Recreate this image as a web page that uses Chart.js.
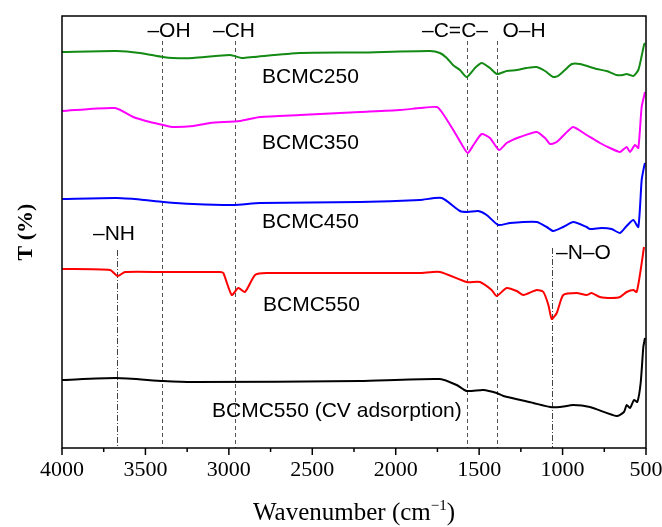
<!DOCTYPE html>
<html>
<head>
<meta charset="utf-8">
<script src="https://cdn.jsdelivr.net/npm/chart.js@4.4.1/dist/chart.umd.min.js"></script>
<style>
  html, body { margin: 0; padding: 0; background: #fff; }
  #wrap { width: 662px; height: 527px; }
</style>
</head>
<body>
<div id="wrap"><canvas id="ftir" width="662" height="527"></canvas></div>
<script>
// FTIR spectra - wavenumber (cm-1) / transmittance (offset, arbitrary units)
const wn250 = [4000, 3672, 3533, 3395, 3335, 3215, 2993, 2923, 2855, 2574, 2214, 1795, 1735, 1694, 1657, 1615, 1575, 1525, 1485, 1435, 1393, 1335, 1275, 1215, 1155, 1105, 1056, 1027, 986, 945, 896, 796, 736, 676, 638, 616, 596, 576, 546, 526, 512, 506];
const t250 = [396, 397, 395, 391, 390, 390, 393, 390, 391, 395, 395.5, 397, 395, 390, 383, 378, 371, 380, 385, 380, 374, 377, 378, 380, 381, 377, 371, 372, 378, 384, 384, 379, 377, 373, 373, 374, 373, 372, 378, 392, 403, 405];

const wn350 = [4000, 3682, 3573, 3473, 3393, 3333, 3213, 3113, 2933, 2813, 2574, 2214, 1974, 1854, 1754, 1724, 1655, 1595, 1568, 1534, 1485, 1435, 1381, 1335, 1255, 1155, 1105, 1075, 1035, 986, 936, 856, 776, 716, 656, 616, 596, 566, 546, 526, 506];
const t350 = [337, 340, 331, 326, 323, 321, 322, 325, 327, 331, 333, 336, 338, 340, 341, 336, 318, 301, 295, 303, 314, 310, 298, 305, 311, 316, 310, 304, 306, 314, 321, 313, 305, 300, 296, 301, 296, 303, 300, 341, 356];

const wn450 = [4000, 3672, 3533, 3393, 3213, 2973, 2813, 2214, 1854, 1724, 1615, 1568, 1505, 1455, 1385, 1315, 1155, 1095, 1056, 996, 936, 856, 836, 766, 706, 656, 616, 576, 546, 526, 512, 506];
const t450 = [249, 250, 248.5, 246, 244, 243, 245, 246, 248, 250, 237, 236, 237, 233, 223, 225, 226, 221, 217, 221, 226, 221, 219, 220, 219, 215, 222, 228, 221, 268, 281, 285];

const wn550 = [4000, 3712, 3666, 3622, 3393, 3053, 3033, 2983, 2943, 2903, 2843, 2773, 1854, 1735, 1575, 1495, 1425, 1395, 1335, 1275, 1235, 1155, 1115, 1085, 1065, 1035, 996, 916, 856, 826, 776, 706, 656, 616, 576, 556, 532, 512];
const t550 = [179, 178, 172, 176, 176, 176, 175, 153, 160, 156, 173, 175, 175, 176, 166, 166, 158, 152, 160, 157, 153, 158, 156, 143, 129, 135, 153, 155, 153, 155, 151, 150, 151, 156, 158, 156, 178, 201];

const wnCV = [4000, 3672, 3393, 3213, 2214, 1735, 1635, 1575, 1475, 1395, 1355, 1175, 1075, 1016, 936, 836, 676, 632, 616, 596, 572, 552, 532, 516, 506];
const tCV = [68, 70, 67, 66, 67, 69, 63, 57, 58, 55, 52, 45, 41, 41, 43, 41, 32, 36, 43, 40, 48, 46, 65, 101, 110];

const seriesNames = ['BCMC250', 'BCMC350', 'BCMC450', 'BCMC550', 'BCMC550 (CV adsorption)'];
const seriesColors = ['#138a13', '#ff00ff', '#0000ff', '#ff0000', '#000000'];

// band assignments
const bandWn = [3400, 2965, 1570, 1390];
const bandLabels = ['\u2013OH', '\u2013CH', '\u2013C=C\u2013', 'O\u2013H'];
const markWn = [3672, 1064];
const markLabels = ['\u2013NH', '\u2013N\u2013O'];

const xTicks = [4000, 3500, 3000, 2500, 2000, 1500, 1000, 500];

function toPoints(xs, ys) {
    return xs.map((x, i) => ({ x: x, y: ys[i] }));
}

const allX = [wn250, wn350, wn450, wn550, wnCV];
const allY = [t250, t350, t450, t550, tCV];

const datasets = seriesNames.map((name, i) => ({
    label: name,
    data: toPoints(allX[i], allY[i]),
    borderColor: seriesColors[i],
    borderWidth: 2,
    pointRadius: 0,
    tension: 0.2,
    fill: false
}));

// cadre, graduations, lignes de bandes et étiquettes
const decorPlugin = {
    id: 'ftirDecor',
    beforeDatasetsDraw(chart) {
        const { ctx, chartArea: a, scales: { x } } = chart;
        ctx.save();
        ctx.strokeStyle = '#555';
        ctx.lineWidth = 1;
        ctx.setLineDash([4, 3]);
        bandWn.forEach(w => {
            const px = Math.round(x.getPixelForValue(w)) + 0.5;
            ctx.beginPath();
            ctx.moveTo(px, 41);
            ctx.lineTo(px, a.bottom);
            ctx.stroke();
        });
        ctx.setLineDash([6, 2, 1, 2]);
        ctx.strokeStyle = '#444';
        const markTop = [250, 248];
        markWn.forEach((w, i) => {
            const px = Math.round(x.getPixelForValue(w)) + 0.5;
            ctx.beginPath();
            ctx.moveTo(px, markTop[i]);
            ctx.lineTo(px, a.bottom);
            ctx.stroke();
        });
        ctx.restore();
    },
    afterDraw(chart) {
        const { ctx, chartArea: a, scales: { x } } = chart;
        ctx.save();
        // frame
        ctx.strokeStyle = '#000';
        ctx.lineWidth = 1.5;
        ctx.strokeRect(a.left, a.top, a.right - a.left, a.bottom - a.top);
        // ticks
        ctx.lineWidth = 1.5;
        for (let w = 500; w <= 4000; w += 250) {
            const px = x.getPixelForValue(w);
            const len = (w % 500 === 0) ? 7 : 4;
            ctx.beginPath();
            ctx.moveTo(px, a.bottom);
            ctx.lineTo(px, a.bottom + len);
            ctx.stroke();
        }
        // band labels
        ctx.fillStyle = '#000';
        ctx.font = '21px "Liberation Sans", Arial, sans-serif';
        ctx.textBaseline = 'middle';
        ctx.textAlign = 'center';
        const bandLabelX = [169, 234, 455, 524];
        bandLabels.forEach((t, i) => ctx.fillText(t, bandLabelX[i], 31));
        ctx.fillText(markLabels[0], 114, 234);
        ctx.textAlign = 'left';
        ctx.fillText(markLabels[1], 556, 253);
        // series labels
        const nameX = [262, 262, 262, 263, 212];
        const nameY = [77, 143, 222, 305, 411];
        seriesNames.forEach((n, i) => ctx.fillText(n, nameX[i], nameY[i]));
        // x title with superscript
        ctx.font = '25px "Liberation Serif", "Times New Roman", serif';
        ctx.textBaseline = 'alphabetic';
        const t1 = 'Wavenumber (cm';
        const sup = '\u22121';
        const t2 = ')';
        const w1 = ctx.measureText(t1).width;
        const w2 = ctx.measureText(t2).width;
        ctx.font = '15px "Liberation Serif", "Times New Roman", serif';
        const ws = ctx.measureText(sup).width;
        const total = w1 + ws + w2;
        const cx = (a.left + a.right) / 2;
        let sx = cx - total / 2;
        const base = 520;
        ctx.font = '25px "Liberation Serif", "Times New Roman", serif';
        ctx.fillText(t1, sx, base);
        ctx.font = '15px "Liberation Serif", "Times New Roman", serif';
        ctx.fillText(sup, sx + w1, base - 10);
        ctx.font = '25px "Liberation Serif", "Times New Roman", serif';
        ctx.fillText(t2, sx + w1 + ws, base);
        ctx.restore();
    }
};

new Chart(document.getElementById('ftir').getContext('2d'), {
    type: 'line',
    data: { datasets: datasets },
    options: {
        responsive: false,
        animation: false,
        events: [],
        layout: { padding: { top: 16, right: 16, left: 0, bottom: 0 } },
        plugins: {
            legend: { display: false },
            tooltip: { enabled: false }
        },
        scales: {
            x: {
                type: 'linear',
                reverse: true,
                min: 500,
                max: 4000,
                afterBuildTicks: (scale) => {
                    scale.ticks = xTicks.map(v => ({ value: v }));
                },
                afterFit: (scale) => {
                    scale.height = 79;
                    scale.paddingLeft = 0;
                    scale.paddingRight = 0;
                },
                grid: { display: false, drawTicks: false },
                border: { display: false },
                ticks: {
                    color: '#000',
                    padding: 9,
                    autoSkip: false,
                    maxRotation: 0,
                    callback: (v) => String(v),
                    font: { family: '"Liberation Serif", "Times New Roman", serif', size: 22 }
                }
            },
            y: {
                min: 0,
                max: 432,
                afterFit: (scale) => { scale.width = 62; },
                grid: { display: false, drawTicks: false },
                border: { display: false },
                ticks: { display: false },
                title: {
                    display: true,
                    text: 'T (%)',
                    color: '#000',
                    padding: { top: 13, bottom: 0 },
                    font: { family: '"Liberation Serif", "Times New Roman", serif', size: 22, weight: 'bold' }
                }
            }
        }
    },
    plugins: [decorPlugin]
});
</script>
</body>
</html>
